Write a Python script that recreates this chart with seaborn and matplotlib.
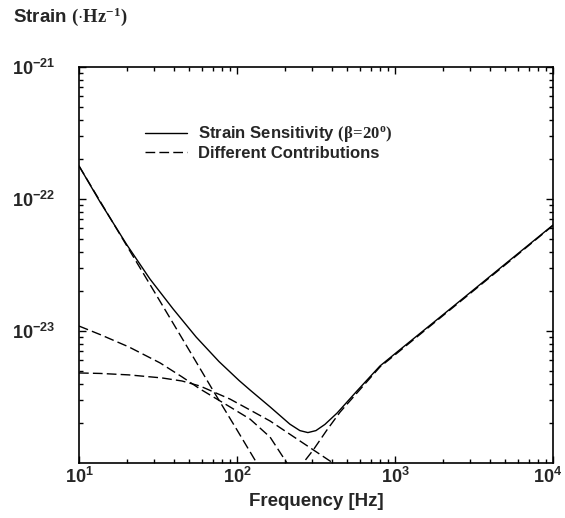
import numpy as np
import pandas as pd
import matplotlib
matplotlib.use("Agg")
import matplotlib.pyplot as plt
import matplotlib.transforms as mtransforms
import seaborn as sns
from matplotlib.lines import Line2D
from matplotlib.ticker import FixedLocator, LogLocator, NullFormatter

# values (frequency in Hz, strain)
total_f = [10, 13.6, 20.1, 28.1, 39.4, 55.1, 76.9, 103, 121, 162, 216, 250, 281,
           316, 360, 430, 574, 803, 1000, 2000, 5000, 10000]
total_h = [1.78e-22, 9.49e-23, 4.49e-23, 2.48e-23, 1.47e-23, 9.01e-24, 5.87e-24,
           4.22e-24, 3.57e-24, 2.66e-24, 1.97e-24, 1.76e-24, 1.70e-24, 1.76e-24,
           1.96e-24, 2.39e-24, 3.51e-24, 5.43e-24, 6.73e-24, 1.32e-23, 3.23e-23, 6.35e-23]

seis_f = [10, 20, 30, 50, 70, 100, 134, 150]
seis_h = [1.78e-22, 4.45e-23, 1.98e-23, 7.1e-24, 3.6e-24, 1.78e-24, 9.9e-25, 7.9e-25]

c2_f = [10, 13.6, 20.7, 32.6, 44.9, 58.3, 90.3, 121, 162, 207, 233]
c2_h = [1.09e-23, 9.40e-24, 7.57e-24, 5.73e-24, 4.49e-24, 3.64e-24, 2.66e-24,
        2.15e-24, 1.57e-24, 1.0e-24, 7.83e-25]

c3_f = [10, 13.6, 20.7, 33.5, 44.9, 58.3, 90.3, 121, 162, 250, 405, 483]
c3_h = [4.81e-24, 4.77e-24, 4.65e-24, 4.41e-24, 4.18e-24, 3.83e-24, 3.05e-24,
        2.52e-24, 2.08e-24, 1.47e-24, 1.0e-24, 8.69e-25]

shot_f = [240, 262, 303, 371, 449, 574, 803, 1000, 2000, 5000, 10000]
shot_h = [8.7e-25, 1.0e-24, 1.25e-24, 1.78e-24, 2.43e-24, 3.39e-24, 5.34e-24,
          6.6e-24, 1.3e-23, 3.18e-23, 6.3e-23]

xtick_vals = [10, 100, 1000, 10000]
xtick_labels = [r"$\mathsf{10^{1}}$", r"$\mathsf{10^{2}}$", r"$\mathsf{10^{3}}$", r"$\mathsf{10^{4}}$"]
ytick_vals = [1e-23, 1e-22, 1e-21]
ytick_labels = [r"$\mathsf{10^{-23}}$", r"$\mathsf{10^{-22}}$", r"$\mathsf{10^{-21}}$"]

sns.set_theme(style="ticks")
plt.rcParams["font.family"] = ["Liberation Sans", "DejaVu Sans"]
plt.rcParams["font.weight"] = "bold"
plt.rcParams["mathtext.fontset"] = "custom"
plt.rcParams["mathtext.sf"] = "Liberation Sans:bold"
plt.rcParams["mathtext.rm"] = "Liberation Sans:bold"
plt.rcParams["mathtext.bf"] = "Liberation Serif:bold"

fig = plt.figure(figsize=(5.65, 5.18), dpi=100)
ax = fig.add_axes([79 / 565, 1 - 463 / 518, 474 / 565, 396 / 518])

dash = (7, 3)
sns.lineplot(x=total_f, y=total_h, ax=ax, color="black", lw=1.0,
             estimator=None, sort=False)
for fx, hy in [(seis_f, seis_h), (c2_f, c2_h), (c3_f, c3_h), (shot_f, shot_h)]:
    sns.lineplot(x=fx, y=hy, ax=ax, color="black", lw=1.0, dashes=False,
                 estimator=None, sort=False, linestyle=(0, dash))

ax.set_xscale("log")
ax.set_yscale("log")
ax.set_xlim(10, 10000)
ax.set_ylim(1e-24, 1e-21)

ax.xaxis.set_major_locator(FixedLocator(xtick_vals))
ax.set_xticklabels(xtick_labels, fontsize=13)
ax.xaxis.set_minor_locator(LogLocator(base=10, subs=np.arange(2, 10)))
ax.xaxis.set_minor_formatter(NullFormatter())
ax.yaxis.set_major_locator(FixedLocator(ytick_vals))
ax.set_yticklabels(ytick_labels, fontsize=13)
ax.yaxis.set_minor_locator(LogLocator(base=10, subs=np.arange(2, 10)))
ax.yaxis.set_minor_formatter(NullFormatter())

ax.tick_params(which="both", direction="in", top=True, right=True, width=1.0, color="black")
ax.tick_params(which="major", length=5)
ax.tick_params(which="minor", length=3)
ax.tick_params(axis="x", which="major", pad=3)
ax.tick_params(axis="y", which="major", pad=17)
for s in ax.spines.values():
    s.set_linewidth(1.2)
    s.set_color("black")

# last x label sits a little left so it stays inside the figure
last = ax.xaxis.get_major_ticks()[-1].label1
last.set_transform(last.get_transform() + mtransforms.ScaledTranslation(-0.05, 0, fig.dpi_scale_trans))

ax.set_xlabel("Frequency [Hz]", fontsize=13.5, fontweight="bold", labelpad=4)
ax.set_ylabel("")
fig.text(13 / 565, 1 - 17 / 518, r"Strain $\mathbf{(\cdot Hz^{-1})}$",
         fontsize=13.5, fontweight="bold", ha="left", va="center")

handles = [Line2D([], [], color="black", lw=1.0),
           Line2D([], [], color="black", lw=1.0, linestyle=(0, dash))]
labels = [r"Strain Sensitivity $\mathbf{(\beta\!=\!20^{o})}$", "Different Contributions"]
ax.legend(handles, labels, loc="upper left", bbox_to_anchor=(0.139, 0.855),
          frameon=False, handlelength=2.5, handletextpad=0.7,
          borderpad=0, borderaxespad=0, labelspacing=0.1,
          prop={"weight": "bold", "size": 12})

fig.savefig("out.png", dpi=100)
